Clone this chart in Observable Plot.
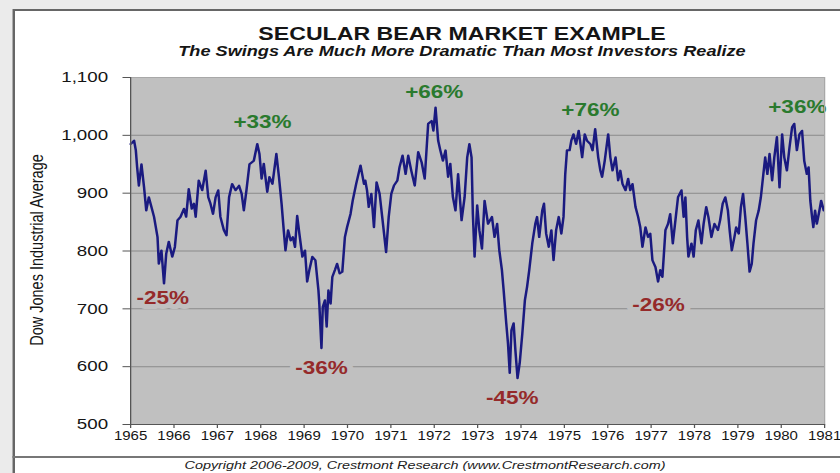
<!DOCTYPE html>
<html>
<head>
<meta charset="utf-8">
<script src="https://cdn.jsdelivr.net/npm/d3@7"></script>
<script src="https://cdn.jsdelivr.net/npm/@observablehq/plot@0.6"></script>
<style>
  html, body { margin: 0; padding: 0; background: #ebebeb; overflow: hidden; width: 840px; height: 473px; }
  #wrap { position: absolute; left: 0; top: 0; width: 672px; height: 473px; transform: scaleX(1.25); transform-origin: 0 0; font-family: "Liberation Sans", Arial, sans-serif; }
  #panel { position: absolute; left: 9.6px; top: 9px; width: 720px; height: 520px; background: #fff; border: 2px solid #666; box-sizing: border-box; }
  #sep { position: absolute; left: 9.6px; top: 456px; width: 720px; height: 0; border-top: 2px solid #777; }
  .t { position: absolute; text-align: center; white-space: nowrap; line-height: 1; color: #151515; }
  #title { left: 69.6px; width: 600px; top: 25px; font-size: 18.5px; font-weight: bold; }
  #subtitle { left: 69.6px; width: 600px; top: 43.5px; font-size: 14.5px; font-weight: bold; font-style: italic; }
  #copy { left: 40px; width: 600px; top: 460px; font-size: 11.5px; font-style: italic; color: #222; }
  #ylab { left: 30.4px; top: 250px; font-size: 14.5px; transform: translate(-50%, -50%) rotate(-90deg); color: #151515; }
  #chart { position: absolute; left: 0; top: 0; }
</style>
</head>
<body>
<div id="wrap">
  <div id="panel"></div>
  <div id="sep"></div>
  <div class="t" id="title">SECULAR BEAR MARKET EXAMPLE</div>
  <div class="t" id="subtitle">The Swings Are Much More Dramatic Than Most Investors Realize</div>
  <div class="t" id="ylab">Dow Jones Industrial Average</div>
  <div class="t" id="copy">Copyright 2006-2009, Crestmont Research (www.CrestmontResearch.com)</div>
  <div id="chart"></div>
</div>
<script>
const dates = [
1965.00,1965.08,1965.12,1965.15,1965.19,1965.25,1965.31,1965.36,1965.42,1965.48,1965.54,1965.62,1965.65,1965.71,1965.77,1965.82,1965.88,1965.96,
1966.02,1966.08,1966.15,1966.23,1966.28,1966.34,1966.41,1966.46,1966.50,1966.57,1966.65,1966.73,1966.79,1966.84,1966.90,1966.96,
1967.02,1967.07,1967.15,1967.21,1967.27,1967.34,1967.42,1967.50,1967.56,1967.61,1967.67,1967.74,1967.84,1967.92,1967.97,
1968.02,1968.07,1968.15,1968.20,1968.27,1968.36,1968.42,1968.48,1968.53,1968.57,1968.63,1968.69,1968.74,1968.79,1968.84,1968.89,1968.96,
1969.02,1969.07,1969.12,1969.19,1969.26,1969.33,1969.35,1969.40,1969.43,1969.48,1969.52,1969.56,1969.61,1969.65,1969.71,1969.76,1969.82,1969.88,1969.94,1969.99,
1970.07,1970.12,1970.20,1970.30,1970.38,1970.41,1970.45,1970.49,1970.55,1970.61,1970.67,1970.74,1970.80,1970.89,1970.95,
1971.01,1971.07,1971.15,1971.20,1971.27,1971.34,1971.40,1971.47,1971.55,1971.63,1971.71,1971.78,1971.86,1971.94,1971.98,
1972.03,1972.09,1972.14,1972.20,1972.26,1972.32,1972.37,1972.43,1972.49,1972.55,1972.63,1972.70,1972.76,1972.81,1972.86,1972.89,1972.93,1972.99,
1973.04,1973.10,1973.16,1973.24,1973.33,1973.39,1973.45,1973.50,1973.56,1973.60,1973.66,1973.70,1973.74,1973.78,1973.83,1973.87,1973.92,1973.97,
1974.03,1974.09,1974.14,1974.19,1974.26,1974.33,1974.37,1974.42,1974.49,1974.53,1974.58,1974.64,1974.70,1974.75,1974.81,1974.87,1974.93,1974.98,
1975.02,1975.06,1975.12,1975.16,1975.21,1975.27,1975.33,1975.41,1975.47,1975.52,1975.60,1975.65,1975.71,1975.78,1975.83,1975.87,1975.93,
1976.01,1976.06,1976.11,1976.18,1976.24,1976.29,1976.34,1976.41,1976.47,1976.52,1976.57,1976.64,1976.70,1976.75,1976.80,1976.87,1976.93,1976.98,
1977.03,1977.10,1977.16,1977.21,1977.26,1977.33,1977.39,1977.44,1977.50,1977.56,1977.62,1977.70,1977.75,1977.79,1977.83,1977.86,1977.93,1977.98,
1978.03,1978.09,1978.16,1978.21,1978.27,1978.32,1978.39,1978.46,1978.54,1978.59,1978.65,1978.71,1978.77,1978.81,1978.86,1978.92,1978.96,
1979.02,1979.07,1979.12,1979.17,1979.22,1979.27,1979.32,1979.36,1979.42,1979.48,1979.53,1979.58,1979.63,1979.68,1979.73,1979.79,1979.84,1979.90,1979.96,
1980.02,1980.07,1980.13,1980.19,1980.25,1980.30,1980.36,1980.42,1980.48,1980.53,1980.59,1980.63,1980.67,1980.71,1980.74,1980.78,1980.82,1980.88,1980.92,1980.98
];
const dow = [
985,991,974,945,913,950,910,870,893,876,859,824,778,801,744,795,816,790,
807,853,859,873,859,907,873,882,859,922,905,939,893,882,864,893,
905,859,836,827,893,916,905,913,899,870,905,950,956,985,968,
925,951,902,928,916,968,928,882,836,801,836,818,824,807,861,830,790,
801,747,767,790,784,732,709,632,703,715,669,732,709,755,767,778,761,764,824,841,
864,887,916,948,916,922,905,876,899,841,919,899,859,798,859,
899,913,922,945,965,933,965,939,913,971,953,925,1020,1025,1008,
1048,991,974,956,974,928,951,893,870,933,853,893,962,985,962,864,790,879,
836,804,887,847,859,824,847,801,767,732,675,640,589,663,675,629,580,606,
657,715,738,767,813,847,859,824,870,882,830,807,836,784,836,859,830,859,
933,974,974,991,1002,985,1008,962,1002,991,985,974,1011,962,939,928,956,
1002,962,939,962,922,939,916,905,925,905,916,876,859,841,807,841,824,830,
784,772,747,767,755,836,847,864,813,853,893,905,859,893,824,790,813,790,
836,853,813,847,876,859,824,847,836,853,882,893,870,836,801,824,841,
830,876,899,859,813,764,778,813,853,870,893,928,962,933,968,922,962,997,910,
1002,962,939,979,1014,1020,974,1002,1008,956,933,945,887,859,841,870,847,870,887,870
];

const xTicks = [1965,1966,1967,1968,1969,1970,1971,1972,1973,1974,1975,1976,1977,1978,1979,1980,1981];
const yTicks = [500,600,700,800,900,1000,1100];
const gridValues = [600,700,800,900,1000];

const labelText  = ["-25%", "+33%", "-36%", "+66%", "-45%", "+76%", "-26%", "+36%"];
const labelYear  = [1965.74, 1968.04, 1969.40, 1972.00, 1973.80, 1975.60, 1977.17, 1980.37];
const labelValue = [719, 1022, 598, 1074, 545, 1043, 707, 1048];
const labelKind  = ["down", "up", "down", "up", "down", "up", "down", "up"];

const series = dates.map((t, i) => ({t, v: dow[i]}));
const labels = labelText.map((s, i) => ({s, t: labelYear[i], v: labelValue[i], k: labelKind[i]}));
const downLabels = labels.filter(d => d.k === "down");
const upLabels = labels.filter(d => d.k === "up");
const commaFmt = d3.format(",.0f");

const chart = Plot.plot({
  width: 672,
  height: 473,
  marginLeft: 104,
  marginRight: 12.8,
  marginTop: 77,
  marginBottom: 49,
  style: {background: "transparent", fontFamily: "'Liberation Sans', Arial, sans-serif", color: "#151515", overflow: "visible"},
  x: {domain: [1965, 1981], label: null},
  y: {domain: [500, 1100], label: null},
  marks: [
    Plot.frame({fill: "#c0c0c0", stroke: null}),
    Plot.ruleY(gridValues, {stroke: "#8a8a8a", strokeWidth: 1}),
    Plot.line(series, {x: "t", y: "v", stroke: "#1a1a80", strokeWidth: 2, strokeLinejoin: "round"}),
    Plot.text(downLabels, {
      x: "t", y: "v", text: "s", fill: "#952a2a",
      fontSize: 18, fontWeight: "bold",
      stroke: "#c0c0c0", strokeWidth: 10, paintOrder: "stroke"
    }),
    Plot.text(upLabels, {
      x: "t", y: "v", text: "s", fill: "#2a7a2e",
      fontSize: 18, fontWeight: "bold"
    }),
    Plot.frame({stroke: "#a8a8a8"}),
    Plot.ruleX([1965], {stroke: "#555"}),
    Plot.ruleY([500], {stroke: "#555"}),
    Plot.axisY({ticks: yTicks, tickFormat: commaFmt, tickSize: 6, tickPadding: 12, fontSize: 15, label: null, stroke: "#555"}),
    Plot.axisX({ticks: xTicks, tickFormat: "d", tickSize: 4, tickPadding: 3, fontSize: 12, label: null, stroke: "#555"})
  ]
});
document.getElementById("chart").appendChild(chart);
</script>
</body>
</html>
